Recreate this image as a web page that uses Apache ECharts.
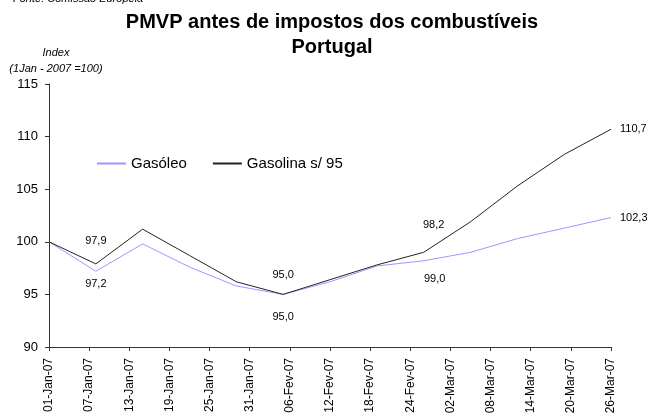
<!DOCTYPE html>
<html>
<head>
<meta charset="utf-8">
<script src="https://cdn.jsdelivr.net/npm/echarts@6/dist/echarts.min.js"></script>
<style>
  html, body { margin: 0; padding: 0; background: #fff; }
  #chart { width: 648px; height: 417px; }
</style>
</head>
<body>
<div id="chart"></div>
<script>
// weekly observation dates
const dates = ['2007-01-01', '2007-01-08', '2007-01-15', '2007-01-22', '2007-01-29',
  '2007-02-05', '2007-02-12', '2007-02-19', '2007-02-26',
  '2007-03-05', '2007-03-12', '2007-03-19', '2007-03-26']
const gasoleo = [100, 97.2, 99.8, 97.6, 95.8, 95.0, 96.2, 97.7, 98.2, 99.0, 100.3, 101.3, 102.3]
const gasolina = [100, 97.9, 101.2, 98.7, 96.2, 95.0, 96.4, 97.8, 99.0, 101.9, 105.3, 108.3, 110.7]
// data labels as printed in the original
const gasoleoLabels = ['', '97,2', '', '', '', '95,0', '', '', '99,0', '', '', '', '102,3']
const gasolinaLabels = ['', '97,9', '', '', '', '95,0', '', '', '98,2', '', '', '', '110,7']
const tickLabels = ['01-Jan-07', '07-Jan-07', '13-Jan-07', '19-Jan-07', '25-Jan-07', '31-Jan-07',
  '06-Fev-07', '12-Fev-07', '18-Fev-07', '24-Fev-07', '02-Mar-07', '08-Mar-07',
  '14-Mar-07', '20-Mar-07', '26-Mar-07']

const FONT = 'Liberation Sans, Arial, sans-serif'
const DAY = 24 * 3600 * 1000
const start = Date.UTC(2007, 0, 1)
const dayOf = d => Math.round((Date.parse(d + 'T00:00:00Z') - start) / DAY)

// label placement per point index (style only)
const topPlace = { 1: [0, -12], 5: [0, -9], 8: [10, -17] }
const bottomPlace = { 1: [0, 2], 5: [0, 12], 8: [11, 8] }

function build (values, labels, place, pos) {
  return values.map((v, i) => {
    const item = { value: [dayOf(dates[i]), v] }
    if (labels[i]) {
      const last = i === values.length - 1
      item.label = {
        show: true,
        formatter: labels[i],
        position: last ? 'right' : pos,
        distance: last ? 9 : 5,
        offset: last ? [0, 0] : place[i]
      }
    }
    return item
  })
}

const chart = echarts.init(document.getElementById('chart'))
chart.setOption({
  animation: false,
  title: [
    {
      text: 'PMVP antes de impostos dos combustíveis\nPortugal',
      left: 327,
      textAlign: 'center',
      top: 5,
      textStyle: { fontFamily: FONT, fontSize: 20, fontWeight: 'bold', color: '#000', lineHeight: 25 }
    },
    {
      text: 'Fonte: Comissão Europeia',
      left: 8,
      top: -12,
      textStyle: { fontFamily: FONT, fontSize: 11, fontStyle: 'italic', fontWeight: 'normal', color: '#000' }
    },
    {
      text: 'Index\n(1Jan - 2007 =100)',
      left: 51,
      textAlign: 'center',
      top: 40,
      textStyle: { fontFamily: FONT, fontSize: 11, fontStyle: 'italic', fontWeight: 'normal', color: '#000', lineHeight: 16 }
    }
  ],
  legend: {
    left: 92,
    top: 151,
    itemWidth: 29,
    itemHeight: 2,
    itemGap: 26,
    icon: 'rect',
    textStyle: { fontFamily: FONT, fontSize: 15, color: '#000' },
    data: ['Gasóleo', 'Gasolina s/ 95']
  },
  grid: { left: 49, right: 37, top: 84, bottom: 70 },
  xAxis: {
    type: 'value',
    min: 0,
    max: 84,
    interval: 6,
    splitLine: { show: false },
    axisLine: { lineStyle: { color: '#333', width: 1 } },
    axisTick: { show: true, length: 4, lineStyle: { color: '#333' } },
    axisLabel: {
      rotate: 90,
      margin: 11,
      fontFamily: FONT,
      fontSize: 12,
      color: '#000',
      formatter: v => tickLabels[Math.round(v / 6)]
    }
  },
  yAxis: {
    type: 'value',
    min: 90,
    max: 115,
    interval: 5,
    splitLine: { show: false },
    axisLine: { show: true, lineStyle: { color: '#333', width: 1 } },
    axisTick: { show: true, length: 4, lineStyle: { color: '#333' } },
    axisLabel: { fontFamily: FONT, fontSize: 13, color: '#000', margin: 11 }
  },
  series: [
    {
      name: 'Gasóleo',
      type: 'line',
      symbol: 'circle',
      symbolSize: 0,
      showAllSymbol: true,
      lineStyle: { color: '#9999ff', width: 1 },
      itemStyle: { color: '#9999ff' },
      label: { fontFamily: FONT, fontSize: 11, color: '#000' },
      data: build(gasoleo, gasoleoLabels, bottomPlace, 'bottom')
    },
    {
      name: 'Gasolina s/ 95',
      type: 'line',
      symbol: 'circle',
      symbolSize: 0,
      showAllSymbol: true,
      lineStyle: { color: '#222', width: 1 },
      itemStyle: { color: '#222' },
      label: { fontFamily: FONT, fontSize: 11, color: '#000' },
      data: build(gasolina, gasolinaLabels, topPlace, 'top')
    }
  ]
})
</script>
</body>
</html>
